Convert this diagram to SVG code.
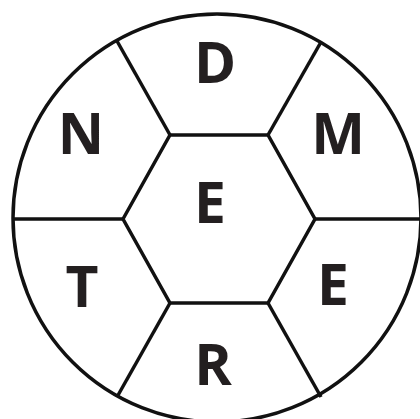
<svg xmlns="http://www.w3.org/2000/svg" width="420" height="419" viewBox="0 0 420 419">
<style>
.ln{fill:none;stroke:#111;stroke-width:3.5;stroke-linejoin:miter}
.lt{font-family:"Open Sans","Liberation Sans",sans-serif;font-weight:bold;font-size:57px;fill:#231f20;text-anchor:middle}
</style>
<rect width="420" height="419" fill="#fff"/>
<g id="outer-circle"><circle class="ln" cx="217" cy="218" r="204"/></g>
<g id="center-hexagon">
<polygon class="ln" points="123,219 170,135 268,135 315,219 268,303 170,303"/>
<text class="lt" x="210" y="223">E</text>
</g>
<g id="connectors">
<line class="ln" x1="170" y1="135" x2="117" y2="41"/>
<line class="ln" x1="268" y1="135" x2="321" y2="42"/>
<line class="ln" x1="123" y1="219" x2="13" y2="219"/>
<line class="ln" x1="315" y1="219" x2="420" y2="219"/>
<line class="ln" x1="170" y1="303" x2="117" y2="397"/>
<line class="ln" x1="268" y1="303" x2="321" y2="397"/>
</g>
<g id="seg-top"><text class="lt" x="215" y="83">D</text></g>
<g id="seg-top-right"><text class="lt" x="338" y="154">M</text></g>
<g id="seg-bottom-right"><text class="lt" x="333" y="305">E</text></g>
<g id="seg-bottom"><text class="lt" x="213" y="385">R</text></g>
<g id="seg-bottom-left"><text class="lt" x="82" y="307">T</text></g>
<g id="seg-top-left"><text class="lt" x="81" y="154">N</text></g>
</svg>
